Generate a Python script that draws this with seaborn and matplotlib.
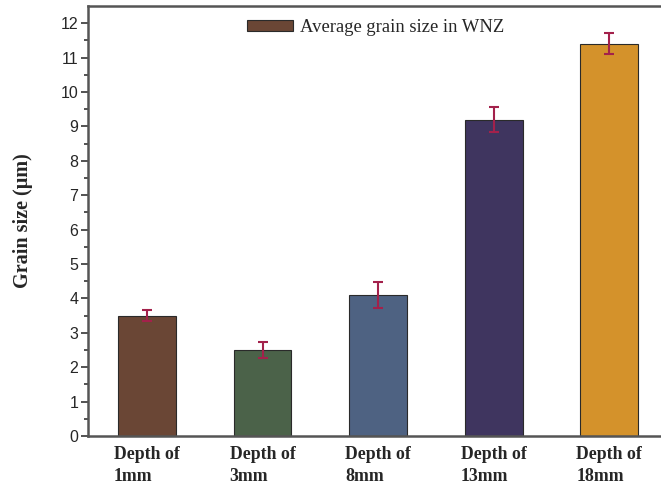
#! /usr/bin/env python3

import numpy as np
import pandas as pd
import seaborn as sns
import matplotlib.pyplot as plt

depths = ['Depth of\n1mm', 'Depth of\n3mm', 'Depth of\n8mm',
          'Depth of\n13mm', 'Depth of\n18mm']
grain_size = [3.50, 2.50, 4.10, 9.19, 11.40]
grain_err = [0.15, 0.23, 0.39, 0.36, 0.31]
bar_colors = ['#6a4635', '#4b6249', '#4e6282', '#3f355f', '#d4922b']


def main():
    sns.set_style('ticks')
    plt.rcParams['font.family'] = ['Liberation Serif', 'DejaVu Serif']

    df = pd.DataFrame({'depth': depths, 'size': grain_size})

    fig = plt.figure(figsize=(6.61, 4.87), dpi=100)
    ax = fig.add_axes([0.1331, 0.1047, 0.8669, 0.883])

    sns.barplot(data=df, x='depth', y='size', hue='depth',
                palette=bar_colors, width=0.5, edgecolor='#2a2a2a',
                linewidth=0.8, saturation=1, legend=False, ax=ax)
    ax.errorbar(np.arange(len(depths)), grain_size, yerr=grain_err,
                fmt='none', ecolor='#a3214b', elinewidth=1.5,
                capsize=3.6, capthick=1.5)

    ax.set_xlim(-0.51, 4.447)
    ax.set_ylim(0, 12.5)
    ax.set_yticks(np.arange(0, 13, 1))
    ax.set_yticks(np.arange(0.5, 12.5, 1), minor=True)
    ax.set_yticklabels([str(v) for v in range(13)],
                       family='Liberation Sans', fontsize=11.5)
    ax.tick_params(axis='y', which='major', length=5, width=1.3,
                   color='#444444', pad=2)
    ax.tick_params(axis='y', which='minor', length=3, width=1.3,
                   color='#444444')
    ax.tick_params(axis='x', length=0, pad=7)
    for lab in ax.get_xticklabels():
        lab.set_fontweight('bold')
        lab.set_fontsize(12.8)
        lab.set_multialignment('left')
        lab.set_linespacing(1.42)

    for side in ['left', 'bottom', 'top']:
        ax.spines[side].set_color('#555555')
        ax.spines[side].set_linewidth(1.8)
    ax.spines['right'].set_visible(False)

    ax.set_xlabel('')
    ax.set_ylabel('Grain size (μm)', fontsize=14.5, fontweight='bold',
                  labelpad=20)

    ax.legend([ax.patches[0]], ['Average grain size in WNZ'],
              loc='center left', bbox_to_anchor=(0.2775, 0.95),
              frameon=False, fontsize=13.4, borderpad=0, borderaxespad=0,
              handlelength=2.45, handleheight=0.55, handletextpad=0.4)

    fig.savefig('out.png', dpi=100)


if __name__ == '__main__':
    main()
